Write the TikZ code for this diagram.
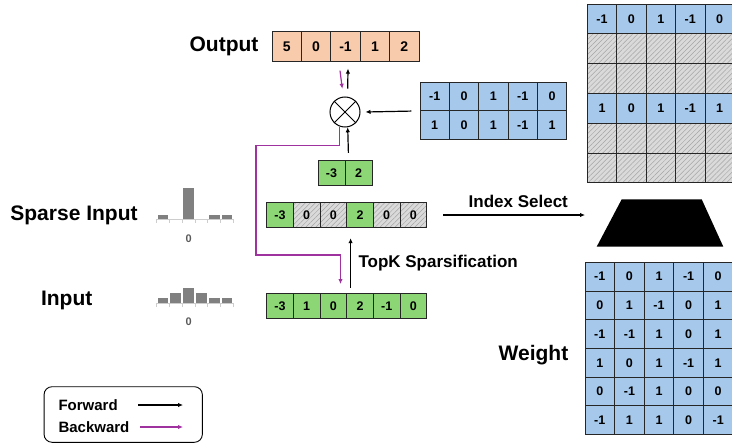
\documentclass[tikz,border=0pt]{standalone}
\usepackage{fontspec}
\setmainfont{Liberation Sans}
\usetikzlibrary{arrows.meta,patterns.meta,calc}
\definecolor{salmon}{RGB}{248,203,173}
\definecolor{lgreen}{RGB}{140,214,118}
\definecolor{lblue}{RGB}{166,200,234}
\definecolor{hatchbg}{RGB}{218,218,218}
\definecolor{hatchln}{RGB}{165,165,165}
\definecolor{bwdc}{RGB}{160,50,160}
\definecolor{histbar}{RGB}{128,128,128}
\definecolor{histax}{RGB}{205,205,205}
\definecolor{histtxt}{RGB}{90,90,90}
\begin{document}
\begin{tikzpicture}[x=1pt,y=-1pt,
  cell/.style={draw=black!85, line width=0.8pt, inner sep=0pt,
    font=\fontsize{12.5}{13}\selectfont\bfseries},
  sz/.style n args={2}{minimum width=#1, minimum height=#2},
  outcell/.style={cell, fill=salmon, sz={29.4pt}{29.4pt},
    font=\fontsize{14}{15}\selectfont\bfseries},
  gcell/.style={cell, fill=lgreen, sz={26.67pt}{25.6pt}},
  hgcell/.style={cell, preaction={fill=hatchbg},
    pattern={Lines[angle=45,distance=3.5pt,line width=0.5pt]}, pattern color=hatchln,
    sz={26.67pt}{25.6pt}},
  smcell/.style={cell, fill=lgreen, sz={27pt}{24.4pt}},
  bcell/.style={cell, fill=lblue, sz={29.33pt}{28.35pt}},
  tcell/.style={cell, fill=lblue, sz={29.4pt}{29.8pt}},
  thcell/.style={cell, preaction={fill=hatchbg},
    pattern={Lines[angle=45,distance=3.5pt,line width=0.5pt]}, pattern color=hatchln,
    sz={29.4pt}{29.8pt}},
  wcell/.style={cell, fill=lblue, sz={29.6pt}{28.7pt}},
  lbl/.style={inner sep=0pt, font=\fontsize{21}{24}\selectfont\bfseries},
  mlbl/.style={inner sep=0pt, font=\fontsize{17}{20}\selectfont\bfseries},
  leglbl/.style={inner sep=0pt, anchor=west, font=\fontsize{15}{18}\selectfont\bfseries},
  fwd/.style={-{Latex[length=5pt,width=4.5pt]}, line width=1.2pt, black},
  bwd/.style={-{Latex[length=5pt,width=4.5pt]}, line width=1.2pt, bwdc},
  ztxt/.style={inner sep=0pt, text=histtxt, font=\fontsize{11}{12}\selectfont\bfseries}
]
\useasboundingbox (0,0) rectangle (732,444);
\clip (0,0) rectangle (732,444);

% ---------- Output ----------
\node[lbl] (outlbl) at (224,46.5) {Output};
\foreach \v [count=\j] in {5,0,-1,1,2}
  \node[outcell] (o\j) at ({272+29.4*(\j-0.5)},46.5) {\v};

% ---------- multiply ----------
\node[draw, circle, line width=1pt, minimum size=30pt, inner sep=0pt] (c) at (345,112) {};
\draw[line width=1pt] (c.45) -- (c.225) (c.135) -- (c.-45);

% ---------- blue 2x5 ----------
\foreach \v [count=\j] in {-1,0,1,-1,0}
  \node[bcell] (b1\j) at ({420+29.33*(\j-0.5)},96.5) {\v};
\foreach \v [count=\j] in {1,0,1,-1,1}
  \node[bcell] (b2\j) at ({420+29.33*(\j-0.5)},124.85) {\v};

% ---------- small green ----------
\node[smcell] (g1) at (331.5,172.9) {-3};
\node[smcell] (g2) at (358.5,172.9) {2};

% ---------- sparse array ----------
\node[gcell]  (s1) at ({266.7+26.67*0.5},215) {-3};
\node[hgcell] (s2) at ({266.7+26.67*1.5},215) {0};
\node[hgcell] (s3) at ({266.7+26.67*2.5},215) {0};
\node[gcell]  (s4) at ({266.7+26.67*3.5},215) {2};
\node[hgcell] (s5) at ({266.7+26.67*4.5},215) {0};
\node[hgcell] (s6) at ({266.7+26.67*5.5},215) {0};

% ---------- input array ----------
\foreach \v [count=\j] in {-3,1,0,2,-1,0}
  \node[gcell] (i\j) at ({266.7+26.67*(\j-0.5)},306) {\v};

% ---------- top-right selected matrix ----------
\foreach \v [count=\j] in {-1,0,1,-1,0}
  \node[tcell] (t1\j) at ({587.3+29.4*(\j-0.5)},{4+29.8*0.5}) {\v};
\foreach \v [count=\j] in {1,0,1,-1,1}
  \node[tcell] (t4\j) at ({587.3+29.4*(\j-0.5)},{4+29.8*3.5}) {\v};
\foreach \i in {2,3,5,6}
  \foreach \j in {1,...,5}
    \node[thcell] (t\i\j) at ({587.3+29.4*(\j-0.5)},{4+29.8*(\i-0.5)}) {};

% ---------- weight matrix ----------
\foreach \row [count=\i] in {{-1,0,1,-1,0},{0,1,-1,0,1},{-1,-1,1,0,1},{1,0,1,-1,1},{0,-1,1,0,0},{-1,1,1,0,-1}}
  \foreach \v [count=\j] in \row
    \node[wcell] (w\i\j) at ({585+29.6*(\j-0.5)},{262.3+28.7*(\i-0.5)}) {\v};
\node[lbl] (wlbl) at (533.5,355) {Weight};

% ---------- index select ----------
\fill[black] (621.7,199.3) -- (701.7,199.3) -- (723.3,246.7) -- (596.7,246.7) -- cycle;
\node[mlbl] (islbl) at (518.3,201.7) {Index Select};
\coordinate (isend) at (585,215);
\draw[fwd] ($(s6.east)+(16,0)$) -- (isend);

% ---------- TopK ----------
\node[mlbl, anchor=west] (topk) at (358.3,263.3) {TopK Sparsification};
\draw[fwd] ($(i4.north west)+(4.3,-5)$) -- ($(s4.south west)+(4.3,10)$);

% ---------- forward arrows ----------
\draw[fwd] ($(g1.north east)+(3,-7.5)$) -- (c.-80);
\draw[fwd] ($(c.80)+(0,-8)$) -- ($(o3.south)+(2.5,7)$);
\draw[fwd] ($(b11.south west)+(-8.3,0)$) -- ($(c.east)+(5,0)$);

% ---------- backward ----------
\draw[bwd] ($(o3.south)+(-5.5,9)$) -- ($(c.100)+(0,-8)$);
\coordinate (pend) at (340.5,284);
\draw[bwd] (c.-110) -- ++(0,19) -| (256,255) -| (pend);

% ---------- left labels ----------
\node[lbl] (splbl) at (74,215) {Sparse Input};
\node[lbl] (inlbl) at (66.7,300.7) {Input};

% ---------- histograms ----------
\def\hx{156.7}
\def\hw{12.78}
% sparse
\foreach \k/\h in {0/4.3,2/31,4/4.3,5/4.3}
  \fill[histbar] ({\hx+\hw*\k+1},219.3) rectangle ({\hx+\hw*(\k+1)-1},{219.3-\h});
\draw[histax, line width=0.8pt] (\hx,219.3) -- ({\hx+6*\hw},219.3);
\foreach \k in {0,...,6}
  \draw[histax, line width=0.8pt] ({\hx+\hw*\k},219.3) -- ++(0,4);
\node[ztxt] (z1) at (188.6,239) {0};
% input
\foreach \k/\h in {0/5,1/10,2/15,3/10,4/5,5/5}
  \fill[histbar] ({\hx+\hw*\k+1},303.3) rectangle ({\hx+\hw*(\k+1)-1},{303.3-\h});
\draw[histax, line width=0.8pt] (\hx,303.3) -- ({\hx+6*\hw},303.3);
\foreach \k in {0,...,6}
  \draw[histax, line width=0.8pt] ({\hx+\hw*\k},303.3) -- ++(0,4);
\node[ztxt] (z2) at (188.6,321.7) {0};

% ---------- legend ----------
\node[draw, rounded corners=8pt, line width=0.9pt, minimum width=158.3pt, minimum height=55.6pt, inner sep=0pt] (leg) at (123.2,414.5) {};
\node[leglbl] (fwl) at (58.3,405) {Forward};
\node[leglbl] (bwl) at (58.3,427) {Backward};
\coordinate (fa1) at (138,405);
\coordinate (fa2) at (183,405);
\coordinate (ba1) at (140,427);
\coordinate (ba2) at (183,427);
\draw[fwd] (fa1) -- (fa2);
\draw[bwd] (ba1) -- (ba2);
\end{tikzpicture}
\end{document}
